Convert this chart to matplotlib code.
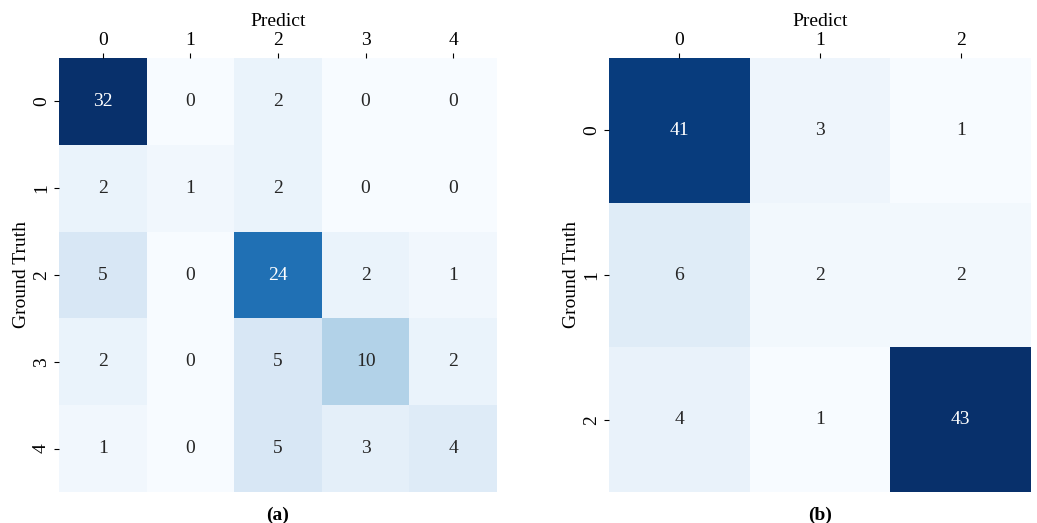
import numpy as np
import matplotlib
matplotlib.use("Agg")
import matplotlib.pyplot as plt
import seaborn as sns

plt.rcParams['font.family'] = ['Liberation Serif', 'DejaVu Serif']

# confusion matrices (rows = ground truth, cols = predict)
cm_a = np.array([[32, 0, 2, 0, 0],
                 [2, 1, 2, 0, 0],
                 [5, 0, 24, 2, 1],
                 [2, 0, 5, 10, 2],
                 [1, 0, 5, 3, 4]])
cm_b = np.array([[41, 3, 1],
                 [6, 2, 2],
                 [4, 1, 43]])
labels_a = ['0', '1', '2', '3', '4']
labels_b = ['0', '1', '2']
captions = ['(a)', '(b)']

fig = plt.figure(figsize=(10.37, 5.23), dpi=100)
ax1 = fig.add_axes([59/1037, 1-492/523, 438/1037, 434/523])
ax2 = fig.add_axes([609/1037, 1-492/523, 422/1037, 434/523])

for ax, cm, labs, cap in [(ax1, cm_a, labels_a, captions[0]), (ax2, cm_b, labels_b, captions[1])]:
    sns.heatmap(cm, annot=True, fmt='d', cmap='Blues', cbar=False, ax=ax,
                xticklabels=labs, yticklabels=labs, annot_kws={'fontsize': 14})
    ax.xaxis.tick_top()
    ax.xaxis.set_label_position('top')
    ax.set_xlabel('Predict', fontsize=14, labelpad=4)
    ax.set_ylabel('Ground Truth', fontsize=14, labelpad=2)
    ax.tick_params(labelsize=14, pad=3)
    plt.setp(ax.get_yticklabels(), rotation=90, va='center')
    ax.text(0.5, -0.053, cap, transform=ax.transAxes, ha='center', va='center',
            fontsize=14, fontweight='bold')

fig.savefig('out.png', dpi=100)
